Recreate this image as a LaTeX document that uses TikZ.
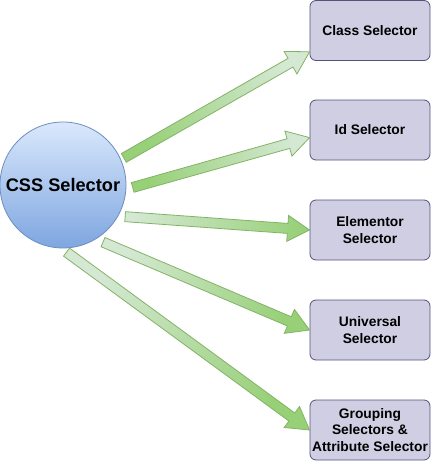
\documentclass[tikz,border=0pt]{standalone}
\usepackage{fontspec}
\setmainfont{Liberation Sans}
\usetikzlibrary{calc}

\definecolor{arrowLight}{HTML}{D5E8D4}
\definecolor{arrowDark}{HTML}{97D077}
\definecolor{arrowLine}{HTML}{82B366}
\definecolor{circTop}{HTML}{DAE8FC}
\definecolor{circBot}{HTML}{7EA6E0}
\definecolor{circLine}{HTML}{6C8EBF}
\definecolor{boxFill}{HTML}{D0CEE2}
\definecolor{boxLine}{HTML}{56517E}

\def\boxX{370}
\def\shaftW{5pt}
\def\headW{13pt}
\def\headL{22pt}

% wide shaded arrow from #1 to #2, colour #3 at the tail and #4 at the head
\newcommand\flexarrow[4]{%
  \pgfmathanglebetweenpoints{\pgfpointanchor{#1}{center}}{\pgfpointanchor{#2}{center}}%
  \pgfmathsetmacro\shadeang{\pgfmathresult-90}%
  \coordinate (ah) at ($(#2)!\headL!(#1)$);
  \shade[draw=arrowLine, line width=0.8pt, top color=#4, bottom color=#3, shading angle=\shadeang]
    ($(#1)!\shaftW!90:(#2)$) -- ($(ah)!\shaftW!-90:(#1)$) -- ($(ah)!\headW!-90:(#1)$) --
    (#2) -- ($(ah)!\headW!90:(#1)$) -- ($(ah)!\shaftW!90:(#1)$) --
    ($(#1)!\shaftW!-90:(#2)$) -- cycle;
}

\begin{document}
\begin{tikzpicture}[x=1pt, y=-1pt,
    selbox/.style={draw=boxLine, fill=boxFill, rounded corners=6pt, line width=0.8pt,
      minimum width=120pt, minimum height=60pt, inner sep=1pt, align=center,
      font=\bfseries\fontsize{13.8}{16.7}\selectfont}]
  \useasboundingbox (0,0) rectangle (431,461);

  \node[circle, draw=circLine, top color=circTop, bottom color=circBot, line width=0.8pt,
    minimum size=126pt, inner sep=0pt, font=\bfseries\fontsize{18.2}{21}\selectfont]
    (css) at (63,185) {CSS Selector};

  \foreach \nm/\y/\txt in {class/30.5/Class Selector, id/130/Id Selector,
      elem/230/{Elementor\\Selector}, univ/330/{Universal\\Selector},
      group/430/{Grouping\\Selectors \&\\Attribute Selector}} {
    \node[selbox] (\nm) at (\boxX,\y) {\txt};
  }

  % arrow tails on the circle
  \foreach \i/\a/\f in {1/24/1.05, 2/-2/1.1, 3/-27/1.1, 4/-55/1.1, 5/-87/1.06} {
    \coordinate (t\i) at ($(css.center)!\f!(css.\a)$);
  }
  % arrow tips on the boxes
  \coordinate (h1) at ($(class.west)!0.7!(class.south west)$);
  \coordinate (h2) at ($(id.west)!0.25!(id.south west)$);
  \coordinate (h3) at (elem.west);
  \coordinate (h4) at (univ.west);
  \coordinate (h5) at (group.west);

  \flexarrow{t1}{h1}{arrowDark}{arrowLight}
  \flexarrow{t2}{h2}{arrowDark}{arrowLight}
  \flexarrow{t3}{h3}{arrowLight}{arrowDark}
  \flexarrow{t4}{h4}{arrowLight}{arrowDark}
  \flexarrow{t5}{h5}{arrowLight}{arrowDark}
\end{tikzpicture}
\end{document}
